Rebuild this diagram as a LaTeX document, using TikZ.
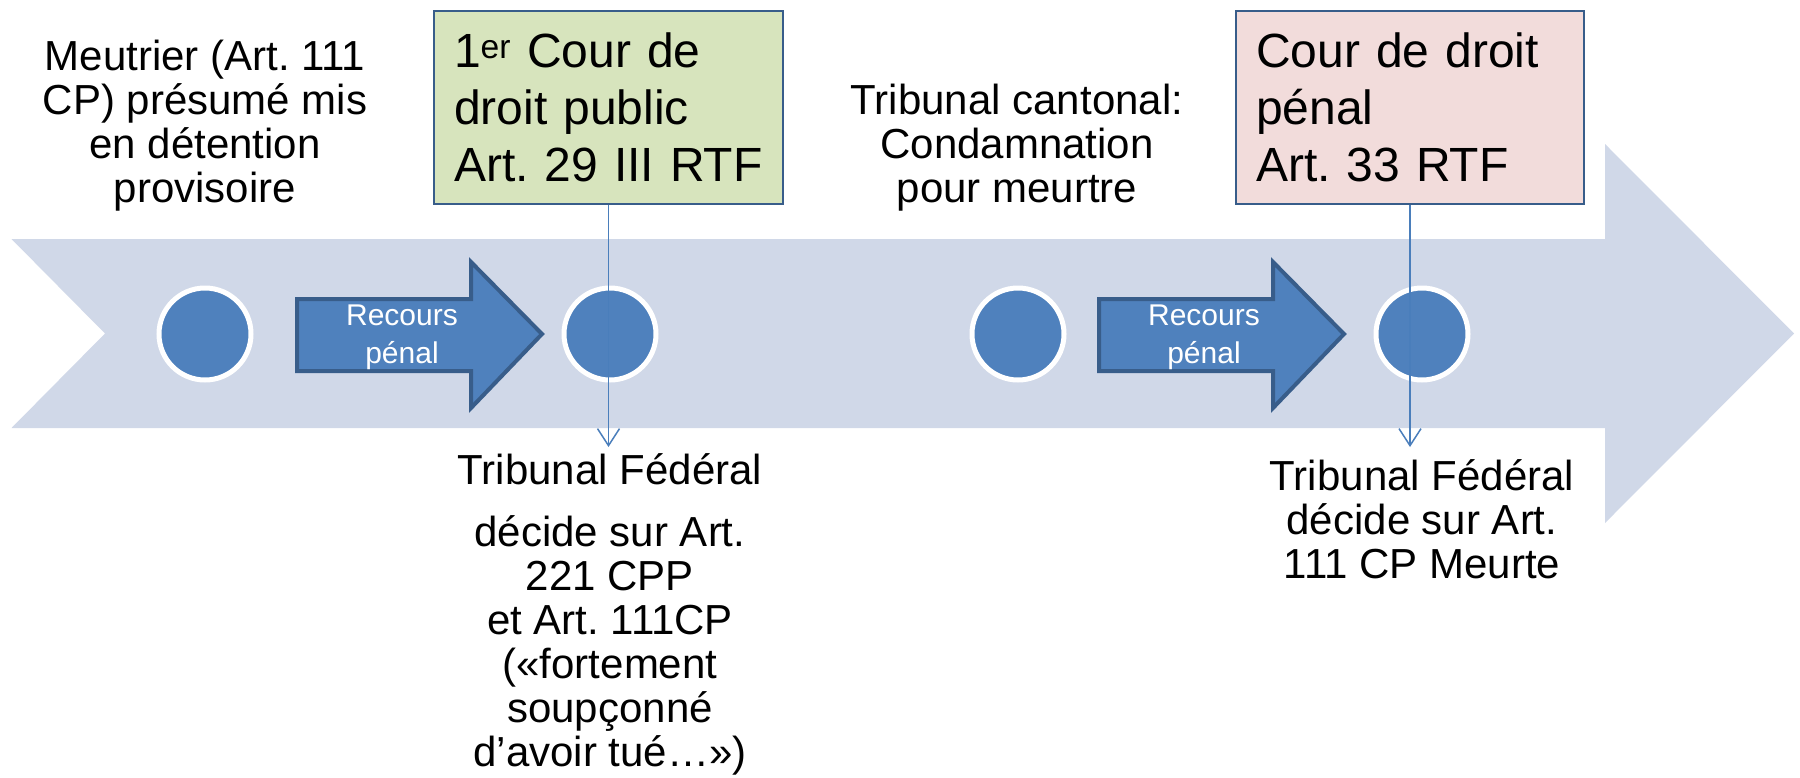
\documentclass[tikz,border=0pt]{standalone}
\usepackage{fontspec}
\setmainfont{Liberation Sans}
\usetikzlibrary{arrows.meta}
\definecolor{bandcol}{RGB}{208,216,232}
\definecolor{dotcol}{RGB}{79,129,189}
\definecolor{dotedge}{RGB}{56,93,138}
\definecolor{conncol}{RGB}{74,126,187}
\definecolor{greenfill}{RGB}{215,228,189}
\definecolor{pinkfill}{RGB}{242,220,219}
\frenchspacing
\begin{document}
\frenchspacing
\begin{tikzpicture}[x=1pt,y=-1pt,
  txt/.style={font=\fontsize{42}{44}\selectfont\frenchspacing, align=center, inner sep=0pt, text=black},
  infobox/.style={draw=dotedge, line width=1.5pt, font=\fontsize{48}{57}\selectfont\frenchspacing,
    align=left, minimum height=193pt, inner ysep=0pt, anchor=center},
  dotnode/.style={circle, fill=dotcol, draw=white, line width=5pt, minimum size=92pt, inner sep=0pt},
  blockarrow/.style={fill=dotcol, draw=dotedge, line width=4pt, line join=miter},
  arrowtxt/.style={font=\fontsize{30}{38}\selectfont, text=white, align=center, inner sep=0pt},
  conn/.style={draw=conncol, line width=1.5pt, -{Straight Barb[length=17pt,width=22pt,line width=1.5pt]}}
]
\useasboundingbox (0,0) rectangle (1800,777);
\fill[white] (0,0) rectangle (1800,777);

% big timeline arrow
\fill[bandcol] (11.5,239) -- (1605,239) -- (1605,144) -- (1794,333.5) -- (1605,523)
  -- (1605,428) -- (11.5,428) -- (105,333.5) -- cycle;

% block arrows "Recours penal"
\draw[blockarrow] (297,299) -- (471,299) -- (471,262) -- (542,334) -- (471,408)
  -- (471,371) -- (297,371) -- cycle;
\node[arrowtxt] (r1) at (402,337) {Recours\\pénal};
\draw[blockarrow] (1099,299) -- (1273,299) -- (1273,262) -- (1344,334) -- (1273,408)
  -- (1273,371) -- (1099,371) -- cycle;
\node[arrowtxt] (r2) at (1204,337) {Recours\\pénal};

% dots
\node[dotnode] (d1) at (205,334) {};
\node[dotnode] (d2) at (610,334) {};
\node[dotnode] (d3) at (1018,334) {};
\node[dotnode] (d4) at (1422,334) {};

% top texts
\node[txt] (t1) at (205,126) {Meutrier (Art. 111\\CP) présumé mis\\en détention\\provisoire};
\node[txt] (t3) at (1017,148) {Tribunal cantonal:\\Condamnation\\pour meurtre};

% boxes
\node[infobox, fill=greenfill, text width=309pt, inner xsep=20pt] (g) at (608.5,107.5)
  {1\textsuperscript{er} Cour de\\droit public\\Art. 29 III RTF};
\node[infobox, fill=pinkfill, text width=308pt, inner xsep=20pt] (p) at (1410,107.5)
  {Cour de droit\\pénal\\Art. 33 RTF};

% connectors
\coordinate (e1) at (608.5,447);
\coordinate (e2) at (1410,447);
\draw[conn] (g.south) -- (e1);
\draw[conn] (p.south) -- (e2);

% bottom texts
\node[txt] (b1) at (610,614) {Tribunal Fédéral\\[18pt]décide sur Art.\\221 CPP\\et Art. 111CP\\(«fortement\\soupçonné\\d’avoir tué…»)};
\node[txt] (b2) at (1422,519) {Tribunal Fédéral\\décide sur Art.\\111 CP Meurte};
\end{tikzpicture}
\end{document}
